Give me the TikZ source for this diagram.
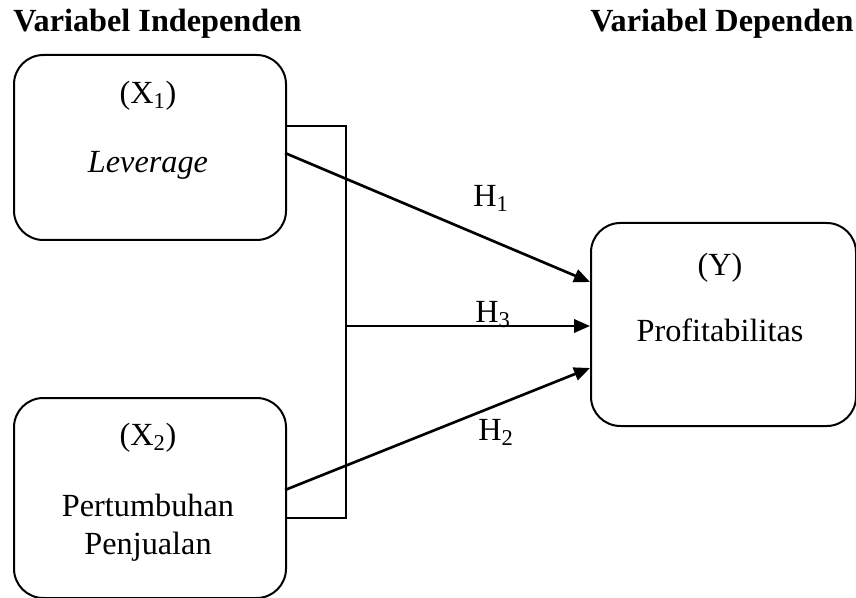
\documentclass[tikz,border=0pt]{standalone}
\usepackage{fontspec}
\setmainfont{Liberation Serif}
\usetikzlibrary{arrows.meta}
\begin{document}
\begin{tikzpicture}[x=0.75pt,y=-0.75pt,
  box/.style={draw,line width=1.5pt,rounded corners=22pt,inner sep=0pt,anchor=north west},
  txt/.style={font=\fontsize{24.2}{28}\selectfont,inner sep=0pt},
  head/.style={font=\fontsize{24.2}{28}\selectfont\bfseries,inner sep=0pt},
  conn/.style={line width=1.2pt},
  arr/.style={line width=2pt,-{Triangle[length=12pt,width=10pt]}}]
\useasboundingbox (0,0) rectangle (856,598);
% boxes
\node[box,minimum width=272*0.75pt,minimum height=185*0.75pt] (x1) at (13,54) {};
\node[box,minimum width=272*0.75pt,minimum height=200*0.75pt] (x2) at (13,397) {};
\node[box,minimum width=265*0.75pt,minimum height=203*0.75pt] (y) at (590,222) {};
% headings
\node[head,anchor=west] (h1) at (13,24) {Variabel Independen};
\node[head,anchor=west] (h2) at (590,24) {Variabel Dependen};
% box texts
\node[txt] (x1a) at (148,96) {(X\textsubscript{1})};
\node[txt] (x1b) at (148,165) {\textit{Leverage}};
\node[txt] (x2a) at (148,438) {(X\textsubscript{2})};
\node[txt] (x2b) at (148,505) {Pertumbuhan};
\node[txt] (x2c) at (148,547) {Penjualan};
\node[txt] (ya) at (720,268) {(Y)};
\node[txt] (yb) at (720,330) {Profitabilitas};
% connector points
\coordinate (b1) at (285,126);
\coordinate (b2) at (285,518);
\coordinate (bm) at (346,326);
\coordinate (s1) at (285,153);
\coordinate (s2) at (285,490);
\coordinate (t1) at (590,282);
\coordinate (t3) at (590,326);
\coordinate (t2) at (590,368);
% bracket
\draw[conn] (b1) -- (346,126) -- (346,518) -- (b2);
% arrows
\draw[arr] (s1) -- (t1);
\draw[arr] (bm) -- (t3);
\draw[arr] (s2) -- (t2);
% labels
\node[txt] (l1) at (491,198) {H\textsubscript{1}};
\node[txt] (l3) at (493,315) {H\textsubscript{3}};
\node[txt] (l2) at (496,432) {H\textsubscript{2}};
\end{tikzpicture}
\end{document}
